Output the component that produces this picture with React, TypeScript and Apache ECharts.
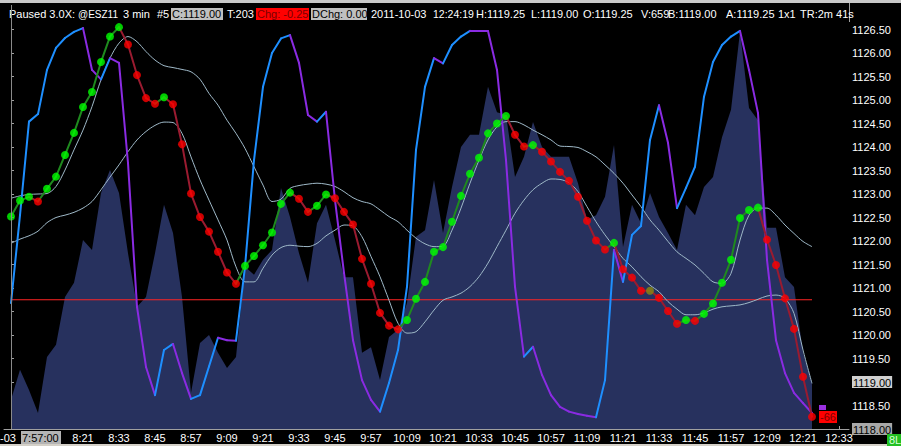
import React, { useEffect, useRef } from "react";
import * as echarts from "echarts";

// Smoothed price (dots), one per 3-min bar starting 7:57
const priceDots = [
  1122.52, 1122.86, 1122.94, 1122.84, 1123.11, 1123.37, 1123.83, 1124.30, 1124.85, 1125.17,
  1125.81, 1126.35, 1126.55, 1126.18, 1125.53, 1125.04, 1124.92, 1125.06, 1124.91, 1124.06,
  1123.01, 1122.51, 1122.20, 1121.77, 1121.33, 1121.09, 1121.47, 1121.68, 1121.91, 1122.18,
  1122.79, 1123.03, 1122.90, 1122.62, 1122.75, 1122.99, 1122.91, 1122.62, 1122.35, 1121.62,
  1121.09, 1120.47, 1120.20, 1120.12, 1120.32, 1120.77, 1121.13, 1121.77, 1121.87, 1122.41,
  1122.96, 1123.43, 1123.77, 1124.29, 1124.50, 1124.66, 1124.26, 1124.01, 1124.04, 1123.90,
  1123.69, 1123.47, 1123.28, 1122.94, 1122.43, 1122.01, 1121.82, 1121.96, 1121.40, 1121.22,
  1120.94, 1120.94, 1120.79, 1120.51, 1120.24, 1120.32, 1120.30, 1120.45, 1120.67, 1121.11,
  1121.60, 1122.49, 1122.66, 1122.71, 1122.03, 1121.49, 1120.78, 1120.13, 1119.11, 1118.26,
];

// Oscillator drawn on the price scale (blue rising / purple falling)
const oscillator = [
  1120.68, 1122.55, 1124.54, 1124.70, 1125.64, 1126.11, 1126.32, 1126.45, 1126.53, 1125.64,
  1125.44, 1125.89, 1125.79, 1123.66, 1120.60, 1119.32, 1118.72, 1119.68, 1119.81, 1119.19,
  1118.64, 1118.72, 1119.33, 1119.94, 1119.89, 1119.88, 1121.45, 1123.72, 1125.28, 1126.00,
  1126.31, 1126.38, 1125.79, 1124.68, 1124.54, 1124.75, 1122.87, 1121.32, 1119.89, 1119.04,
  1118.62, 1118.37, 1118.98, 1119.68, 1121.03, 1123.94, 1125.28, 1125.89, 1125.78, 1126.17,
  1126.35, 1126.47, 1126.47, 1126.47, 1125.64, 1123.72, 1121.03, 1119.54, 1119.75, 1119.15,
  1118.72, 1118.47, 1118.37, 1118.32, 1118.28, 1118.25, 1119.04, 1121.81, 1121.13, 1122.13,
  1122.32, 1124.15, 1124.89, 1124.09, 1122.70, 1123.13, 1123.58, 1125.07, 1125.81, 1126.17,
  1126.35, 1126.47, 1125.64, 1124.72, 1121.60, 1119.89, 1119.19, 1118.77, 1118.55, 1118.34,
];

// Filled navy profile
const areaProfile = [
  1118.62, 1119.26, 1118.83, 1118.34, 1119.53, 1119.79, 1120.81, 1121.11, 1122.02, 1121.81,
  1123.02, 1123.51, 1123.02, 1121.74, 1120.60, 1120.81, 1121.74, 1122.77, 1122.17, 1120.81,
  1118.77, 1119.83, 1120.00, 1119.62, 1119.30, 1119.53, 1121.45, 1121.28, 1121.60, 1121.81,
  1123.13, 1122.51, 1121.74, 1121.11, 1122.38, 1122.77, 1122.02, 1121.23, 1121.23, 1119.62,
  1119.74, 1119.04, 1119.96, 1120.11, 1120.68, 1122.09, 1122.23, 1123.30, 1122.17, 1123.15,
  1124.00, 1124.26, 1124.26, 1125.28, 1124.74, 1124.68, 1123.36, 1123.79, 1124.53, 1124.00,
  1123.79, 1123.79, 1123.79, 1123.23, 1122.45, 1122.55, 1122.94, 1124.04, 1121.87, 1122.77,
  1122.38, 1123.02, 1122.51, 1122.17, 1121.81, 1122.77, 1122.55, 1123.15, 1123.36, 1124.21,
  1124.79, 1126.45, 1124.83, 1124.57, 1122.28, 1122.28, 1121.23, 1121.02, 1119.62, 1118.98,
];

// Two thin moving-average lines
const bandUpper = [
  1122.91, 1122.96, 1122.99, 1123.00, 1123.01, 1123.16, 1123.51, 1123.94, 1124.36, 1124.86,
  1125.43, 1125.89, 1126.21, 1126.35, 1126.24, 1126.03, 1125.85, 1125.73, 1125.69, 1125.65,
  1125.60, 1125.44, 1125.14, 1124.89, 1124.57, 1124.29, 1123.97, 1123.58, 1123.19, 1122.84,
  1122.89, 1123.12, 1123.18, 1123.21, 1123.23, 1123.21, 1123.16, 1123.05, 1122.92, 1122.84,
  1122.79, 1122.66, 1122.52, 1122.41, 1122.23, 1122.06, 1121.94, 1121.88, 1121.89, 1122.23,
  1122.70, 1123.23, 1123.72, 1124.15, 1124.43, 1124.54, 1124.54, 1124.47, 1124.36, 1124.26,
  1124.15, 1124.02, 1124.01, 1123.99, 1123.90, 1123.79, 1123.62, 1123.44, 1123.23, 1122.98,
  1122.73, 1122.45, 1122.23, 1121.99, 1121.77, 1121.63, 1121.49, 1121.31, 1121.13, 1121.10,
  1121.31, 1122.02, 1122.55, 1122.70, 1122.70, 1122.55, 1122.34, 1122.16, 1121.99, 1121.88,
];
const bandLower = [
  1121.95, 1122.04, 1122.11, 1122.21, 1122.39, 1122.50, 1122.55, 1122.61, 1122.70, 1122.84,
  1123.09, 1123.36, 1123.62, 1123.90, 1124.15, 1124.33, 1124.46, 1124.53, 1124.52, 1124.29,
  1123.79, 1123.30, 1122.87, 1122.45, 1122.02, 1121.45, 1121.13, 1121.13, 1121.42, 1121.70,
  1121.86, 1121.91, 1121.89, 1121.88, 1121.95, 1122.11, 1122.23, 1122.34, 1122.32, 1122.09,
  1121.67, 1121.24, 1120.74, 1120.25, 1120.04, 1120.07, 1120.28, 1120.53, 1120.74, 1120.81,
  1120.89, 1121.03, 1121.24, 1121.53, 1121.88, 1122.23, 1122.59, 1122.87, 1123.09, 1123.23,
  1123.32, 1123.31, 1123.24, 1123.05, 1122.73, 1122.41, 1122.13, 1121.88, 1121.63, 1121.45,
  1121.24, 1121.06, 1120.92, 1120.71, 1120.55, 1120.43, 1120.43, 1120.47, 1120.55, 1120.60,
  1120.62, 1120.64, 1120.69, 1120.76, 1120.83, 1120.85, 1120.78, 1120.46, 1119.68, 1118.97,
];

const refLevel = 1120.75;
const refSpan = [0, 89];

const xTickIndex = [8, 12, 16, 20, 24, 28, 32, 36, 40, 44, 48, 52, 56, 60, 64, 68, 72, 76, 80, 84, 88, 92];
const xTickLabels = [
  "8:21", "8:33", "8:45", "8:57", "9:09", "9:21", "9:33", "9:45", "9:57", "10:09", "10:21",
  "10:33", "10:45", "10:57", "11:09", "11:21", "11:33", "11:45", "11:57", "12:09", "12:21", "12:33",
];
const yTicks = [
  1118, 1118.5, 1119, 1119.5, 1120, 1120.5, 1121, 1121.5, 1122, 1122.5, 1123, 1123.5, 1124,
  1124.5, 1125, 1125.5, 1126, 1126.5,
];

const headerTokens: [string, number, number][] = [
  ["Paused 3.0X:", 9, 11], ["@ESZ11", 78, 10], ["3 min", 123, 11], ["#5", 157, 11], ["T:203", 227, 11],
  ["2011-10-03", 371, 11], ["12:24:19", 433, 10.5], ["H:1119.25", 476, 11], ["L:1119.00", 531, 11],
  ["O:1119.25", 583, 11], ["V:659", 641, 11], ["B:1119.00", 668, 11], ["A:1119.25", 726, 11],
  ["1x1", 778, 11], ["TR:2m 41s", 800, 11],
];
const headerBoxes: [string, number, number, string, string][] = [
  ["C:1119.00", 171, 52, "#c0c0c0", "#000000"],
  ["Chg: -0.25", 256, 53, "#ff0000", "#7a0000"],
  ["DChg: 0.00", 311, 56, "#c0c0c0", "#000000"],
];

const FAMILY = '"Liberation Sans", Arial, sans-serif';
const font = (s: number) => `${s}px ${FAMILY}`;

export default function App() {
  const ref = useRef<HTMLDivElement>(null);
  useEffect(() => {
    const chart = echarts.init(ref.current as HTMLDivElement, null, { renderer: "svg" });
    const pts = (arr: number[]) => arr.map((v, i) => [i, v]);
    const segs = (arr: number[]) => arr.slice(1).map((v, k) => [k, arr[k], k + 1, v]);
    const segSeries = (arr: number[], upC: string, downC: string, w: number, z: number) => ({
      type: "custom",
      data: segs(arr),
      encode: { x: [0, 2], y: [1, 3] },
      silent: true,
      z,
      renderItem: (_p: any, api: any) => {
        const a = api.coord([api.value(0), api.value(1)]);
        const b = api.coord([api.value(2), api.value(3)]);
        const up = api.value(3) > api.value(1);
        return {
          type: "line",
          shape: { x1: a[0], y1: a[1], x2: b[0], y2: b[1] },
          style: { stroke: up ? upC : downC, lineWidth: w, lineCap: "round" },
        };
      },
    });

    const graphics: any[] = [
      { type: "rect", shape: { x: 0, y: 0, width: 901, height: 3 }, style: { fill: "#c8c8c8" } },
      { type: "rect", shape: { x: 0, y: 444, width: 901, height: 2 }, style: { fill: "#d4d0c8" } },
      { type: "line", shape: { x1: 11.5, y1: 5, x2: 11.5, y2: 429 }, style: { stroke: "#8a8a8a", lineWidth: 1 }, z: 10 },
      { type: "line", shape: { x1: 849.5, y1: 3, x2: 849.5, y2: 22 }, style: { stroke: "#a0a0a0", lineWidth: 1 } },
    ];
    headerBoxes.forEach(([t, x, w, bg, fg]) => {
      graphics.push({ type: "rect", shape: { x, y: 8, width: w, height: 12 }, style: { fill: bg } });
      graphics.push({ type: "text", x: x + 1, y: 14, style: { text: t, fill: fg, font: font(11), verticalAlign: "middle" } });
    });
    headerTokens.forEach(([t, x, s]) => {
      graphics.push({ type: "text", x, y: 14, style: { text: t, fill: "#ffffff", font: font(s), verticalAlign: "middle" } });
    });
    // bottom-left first time stamp
    graphics.push({ type: "text", x: 0, y: 438, style: { text: "-03", fill: "#ffffff", font: font(11), verticalAlign: "middle" } });
    graphics.push({ type: "rect", shape: { x: 21, y: 431, width: 40, height: 13 }, style: { fill: "#b4b4b4" } });
    graphics.push({ type: "text", x: 22, y: 438, style: { text: "7:57:00", fill: "#000000", font: font(11), verticalAlign: "middle" } });
    // position marker
    graphics.push({ type: "rect", shape: { x: 819, y: 405, width: 7, height: 5 }, style: { fill: "#9a30e0" }, z: 20 });
    graphics.push({ type: "rect", shape: { x: 819, y: 411, width: 18, height: 12 }, style: { fill: "#ff0000" }, z: 20 });
    graphics.push({ type: "text", x: 820, y: 417, z: 21, style: { text: "-66", fill: "#7a0000", font: font(11), verticalAlign: "middle" } });
    // green box bottom right
    graphics.push({ type: "rect", shape: { x: 887, y: 434, width: 14, height: 12 }, style: { fill: "#22c022" }, z: 20 });
    graphics.push({ type: "text", x: 889, y: 440, z: 21, style: { text: "8L", fill: "#d8ffd8", font: font(11), verticalAlign: "middle" } });

    const xMin = -7 / 9;
    const xMax = 845 / 9 - 7 / 9;
    const yMin = 1118;
    const yMax = 1118 + 407 / 47;

    chart.setOption({
      animation: false,
      backgroundColor: "#000000",
      grid: { left: 4, right: 52, top: 22, bottom: 17 },
      xAxis: {
        type: "value",
        min: xMin,
        max: xMax,
        splitLine: { show: false },
        axisLine: { lineStyle: { color: "#a0a0a0", width: 1 } },
        axisTick: { customValues: xTickIndex, inside: true, length: 3, lineStyle: { color: "#a0a0a0" } },
        axisLabel: {
          customValues: xTickIndex,
          color: "#ffffff",
          fontSize: 11,
          fontFamily: FAMILY,
          margin: 3,
          formatter: (v: number) => {
            const k = xTickIndex.indexOf(Math.round(v));
            return k >= 0 ? xTickLabels[k] : "";
          },
        },
      },
      yAxis: {
        type: "value",
        position: "right",
        min: yMin,
        max: yMax,
        splitLine: { show: false },
        axisLine: { show: true, lineStyle: { color: "#a0a0a0", width: 1 } },
        axisTick: { show: true, customValues: yTicks, length: 3, lineStyle: { color: "#a0a0a0" } },
        axisLabel: {
          customValues: yTicks,
          color: "#ffffff",
          fontSize: 11,
          fontFamily: FAMILY,
          margin: 3,
          formatter: (v: number) => {
            const s = v.toFixed(2);
            if (Math.abs(v - 1119) < 1e-6) return `{cur|${s}}`;
            if (Math.abs(v - 1118) < 1e-6) return `{low|${s}}`;
            return s;
          },
          rich: {
            cur: { backgroundColor: "#d0d0d0", color: "#000000", fontSize: 11, fontFamily: FAMILY, padding: [1, 1, 0, 1] },
            low: { backgroundColor: "#a8a8a8", color: "#000000", fontSize: 11, fontFamily: FAMILY, padding: [1, 1, 0, 1] },
          },
        },
      },
      graphic: { elements: graphics },
      series: [
        {
          type: "line",
          data: pts(areaProfile),
          symbol: "none",
          lineStyle: { width: 0 },
          areaStyle: { color: "#27315e", opacity: 1, origin: "start" },
          z: 1,
          silent: true,
        },
        {
          type: "line",
          data: [[refSpan[0], refLevel], [refSpan[1], refLevel]],
          symbol: "none",
          lineStyle: { color: "#ff2424", width: 1 },
          z: 2,
          silent: true,
        },
        {
          type: "line",
          data: pts(bandUpper),
          symbol: "none",
          smooth: 0.3,
          lineStyle: { color: "#9fb9c8", width: 1 },
          z: 3,
          silent: true,
        },
        {
          type: "line",
          data: pts(bandLower),
          symbol: "none",
          smooth: 0.3,
          lineStyle: { color: "#9fb9c8", width: 1 },
          z: 3,
          silent: true,
        },
        segSeries(oscillator, "#1e8fff", "#8a2be2", 2, 4),
        segSeries(priceDots, "#1f8a1f", "#9a1b30", 2, 5),
        {
          type: "scatter",
          data: pts(priceDots),
          symbol: "circle",
          symbolSize: 8,
          z: 6,
          silent: true,
          itemStyle: {
            color: (p: any) => {
              const i = p.dataIndex;
              if (i === 0) return "#00ff00";
              const d = priceDots[i] - priceDots[i - 1];
              if (d > 0) return "#00ff00";
              if (d < 0) return "#ff0000";
              return "#8a8a10";
            },
          },
        },
      ],
    });
    return () => chart.dispose();
  }, []);
  return (
    <div
      ref={ref}
      style={{ position: "fixed", left: 0, top: 0, width: 901, height: 446 }}
    />
  );
}
